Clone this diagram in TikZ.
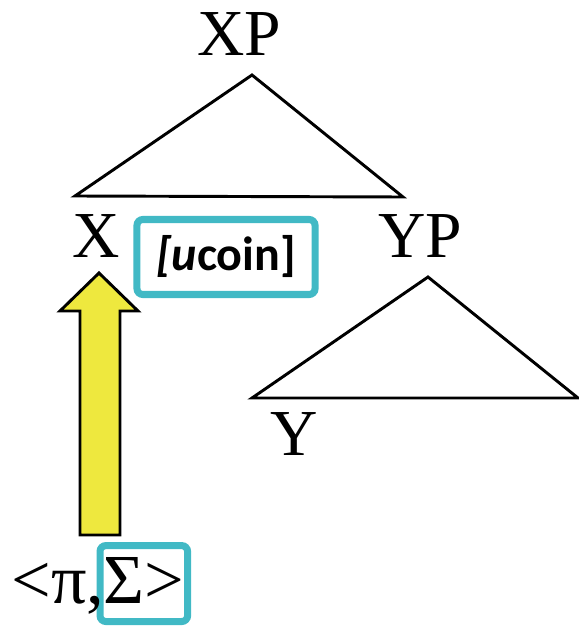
\documentclass[tikz,border=0pt]{standalone}
\usepackage{fontspec}
\setmainfont{Liberation Serif}
\newfontfamily\coinfont{Carlito}
\usepackage{tikz}
\usetikzlibrary{positioning, calc}
\definecolor{featteal}{HTML}{41B9C5}
\definecolor{hlyellow}{HTML}{EEE83E}

\begin{document}
\begin{tikzpicture}[
    x=0.03cm, y=-0.03cm,
    cat/.style={
        inner sep=0pt, anchor=base,
        font=\fontsize{56}{60}\selectfont
    },
    feature/.style={
        draw=featteal, line width=6pt, rounded corners=5pt,
        inner sep=0pt, align=center
    },
    branch/.style={line width=2.5pt, line join=miter, color=black},
    raise/.style={draw=black, fill=hlyellow, line width=2.5pt, line join=miter}
]
\useasboundingbox (0,0) rectangle (578,626);

% --- Category labels ---
\node[cat] (xp) at (239, 56) {XP};
\node[cat] (x)  at (96, 257) {X};
\node[cat] (yp) at (420, 257) {YP};
\node[cat] (y)  at (294, 455) {Y};

% --- Triangles ---
\coordinate (xpapex) at (252, 75);
\coordinate (xcorner) at (75, 196);
\coordinate (ypcorner) at (403, 197);
\draw[branch] (xpapex) -- (xcorner) -- (ypcorner) -- cycle;

\coordinate (ypapex) at (428, 277);
\coordinate (ycorner) at (252, 398);
\coordinate (rcorner) at (578, 398);
\draw[branch] (ypapex) -- (ycorner) -- (rcorner) -- cycle;

% --- Feature box ---
\node[feature, minimum width=152pt, minimum height=64pt] (coin) at (226, 257) {%
    {\coinfont\fontsize{41}{44}\selectfont\bfseries\itshape [u}%
    {\coinfont\fontsize{41}{44}\selectfont\bfseries coin]}%
};

% --- Pair ---
\node[feature, anchor=base west, text height=49pt, text depth=15.8pt,
      inner xsep=3pt, font=\fontsize{60}{64}\selectfont] (sigma) at (96.5, 603) {Σ>};
\node[cat, anchor=base east, xshift=7pt, font=\fontsize{60}{64}\selectfont] (pi)
    at (sigma.base west) {<π,};

% --- Raising arrow ---
\coordinate (tail) at (100, 535);
\coordinate (tip) at (99, 273);
\draw[raise] (tail -| 80,0) -- (80, 311) -- (60, 311) -- (tip)
    -- (138, 311) -- (120, 311) -- (tail -| 120,0) -- cycle;

\end{tikzpicture}
\end{document}
